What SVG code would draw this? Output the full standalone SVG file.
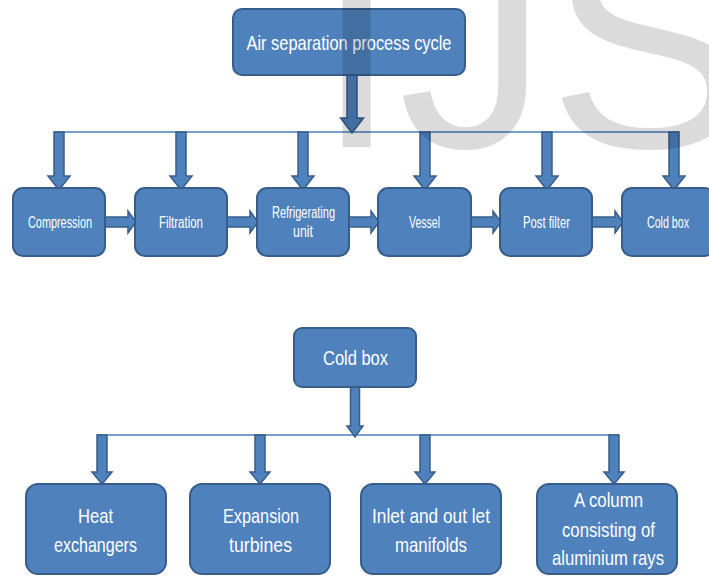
<svg xmlns="http://www.w3.org/2000/svg" width="709" height="576" viewBox="0 0 709 576">
<style>
.box{fill:#4f81bd;stroke:#385d8a;stroke-width:2}
.arr{fill:#4f81bd;stroke:#385d8a;stroke-width:1.5;stroke-linejoin:miter}
.ln{stroke:#4a7ebb;stroke-width:1.5;fill:none}
.t{fill:#ffffff;font-family:"Liberation Sans Narrow","Liberation Sans",Arial,sans-serif;text-anchor:middle}
.s{font-size:16px}
.m{font-size:20px}
.l{font-size:21px}
.wm{fill:#000000;fill-opacity:0.14;font-family:"Liberation Sans",Arial,sans-serif;font-size:300px}
</style>
<rect width="709" height="576" fill="#ffffff"/>
<g id="connectors">
<line class="ln" x1="54" y1="132" x2="679" y2="132"/>
<polygon class="arr" points="347,75 357,75 357,118 363.5,118 352,133 340.5,118 347,118"/>
<polygon class="arr" points="54,132 64,132 64,176 70,176 59,190 48,176 54,176"/>
<polygon class="arr" points="176,132 186,132 186,176 192,176 181,190 170,176 176,176"/>
<polygon class="arr" points="298,132 308,132 308,176 314,176 303,190 292,176 298,176"/>
<polygon class="arr" points="420,132 430,132 430,176 436,176 425,190 414,176 420,176"/>
<polygon class="arr" points="542,132 552,132 552,176 558,176 547,190 536,176 542,176"/>
<polygon class="arr" points="669,132 679,132 679,176 685,176 674,190 663,176 669,176"/>
<polygon class="arr" points="105,217 128,217 128,211 136,222 128,233 128,227 105,227"/>
<polygon class="arr" points="227,217 250,217 250,211 258,222 250,233 250,227 227,227"/>
<polygon class="arr" points="349,217 371,217 371,211 379,222 371,233 371,227 349,227"/>
<polygon class="arr" points="471,217 493,217 493,211 501,222 493,233 493,227 471,227"/>
<polygon class="arr" points="592,217 615,217 615,211 623,222 615,233 615,227 592,227"/>
<line class="ln" x1="97" y1="435" x2="619" y2="435"/>
<polygon class="arr" points="350.5,387 359.5,387 359.5,426 363,426 355,437 347,426 350.5,426"/>
<polygon class="arr" points="97,435 107,435 107,472 112,472 102,484 92,472 97,472"/>
<polygon class="arr" points="255,435 265,435 265,472 270,472 260,484 250,472 255,472"/>
<polygon class="arr" points="420,435 430,435 430,472 435,472 425,484 415,472 420,472"/>
<polygon class="arr" points="609,435 619,435 619,472 624,472 614,484 604,472 609,472"/>
</g>
<g id="n-title">
<rect class="box" x="233" y="9" width="232" height="66" rx="9"/>
<text class="t l" x="349" y="49.5" textLength="205" lengthAdjust="spacingAndGlyphs">Air separation process cycle</text>
</g>
<g id="n-compression">
<rect class="box" x="13" y="188" width="92" height="68" rx="10"/>
<text class="t s" x="60" y="228" textLength="64" lengthAdjust="spacingAndGlyphs">Compression</text>
</g>
<g id="n-filtration">
<rect class="box" x="135" y="188" width="92" height="68" rx="10"/>
<text class="t s" x="181" y="228" textLength="44" lengthAdjust="spacingAndGlyphs">Filtration</text>
</g>
<g id="n-refrigerating">
<rect class="box" x="257" y="188" width="92" height="68" rx="10"/>
<text class="t s" x="303.5" y="218" textLength="63" lengthAdjust="spacingAndGlyphs">Refrigerating</text>
<text class="t s" x="303" y="237" textLength="20" lengthAdjust="spacingAndGlyphs">unit</text>
</g>
<g id="n-vessel">
<rect class="box" x="378" y="188" width="93" height="68" rx="10"/>
<text class="t s" x="424.5" y="228" textLength="31" lengthAdjust="spacingAndGlyphs">Vessel</text>
</g>
<g id="n-postfilter">
<rect class="box" x="500" y="188" width="92" height="68" rx="10"/>
<text class="t s" x="546.5" y="228" textLength="47" lengthAdjust="spacingAndGlyphs">Post filter</text>
</g>
<g id="n-coldbox1">
<rect class="box" x="622" y="188" width="92" height="68" rx="10"/>
<text class="t s" x="668" y="228" textLength="42" lengthAdjust="spacingAndGlyphs">Cold box</text>
</g>
<g id="n-coldbox2">
<rect class="box" x="294" y="328" width="122" height="59" rx="8"/>
<text class="t m" x="355.5" y="365" textLength="65" lengthAdjust="spacingAndGlyphs">Cold box</text>
</g>
<g id="n-heat">
<rect class="box" x="26" y="484" width="140" height="90" rx="12"/>
<text class="t l" x="95.5" y="523" textLength="35" lengthAdjust="spacingAndGlyphs">Heat</text>
<text class="t l" x="95.5" y="552" textLength="83" lengthAdjust="spacingAndGlyphs">exchangers</text>
</g>
<g id="n-expansion">
<rect class="box" x="190" y="484" width="140" height="90" rx="12"/>
<text class="t l" x="261" y="523" textLength="76" lengthAdjust="spacingAndGlyphs">Expansion</text>
<text class="t l" x="260.5" y="552" textLength="63" lengthAdjust="spacingAndGlyphs">turbines</text>
</g>
<g id="n-inlet">
<rect class="box" x="361" y="484" width="140" height="90" rx="12"/>
<text class="t l" x="431" y="523" textLength="118" lengthAdjust="spacingAndGlyphs">Inlet and out let</text>
<text class="t l" x="431" y="552" textLength="72" lengthAdjust="spacingAndGlyphs">manifolds</text>
</g>
<g id="n-column">
<rect class="box" x="537" y="484" width="140" height="90" rx="12"/>
<text class="t l" x="608.5" y="507" textLength="69" lengthAdjust="spacingAndGlyphs">A column</text>
<text class="t l" x="608.5" y="537" textLength="93" lengthAdjust="spacingAndGlyphs">consisting of</text>
<text class="t l" x="608" y="565" textLength="112" lengthAdjust="spacingAndGlyphs">aluminium rays</text>
</g>
<g id="watermark">
<text class="wm" x="315" y="147">IJS</text>
</g>
</svg>
